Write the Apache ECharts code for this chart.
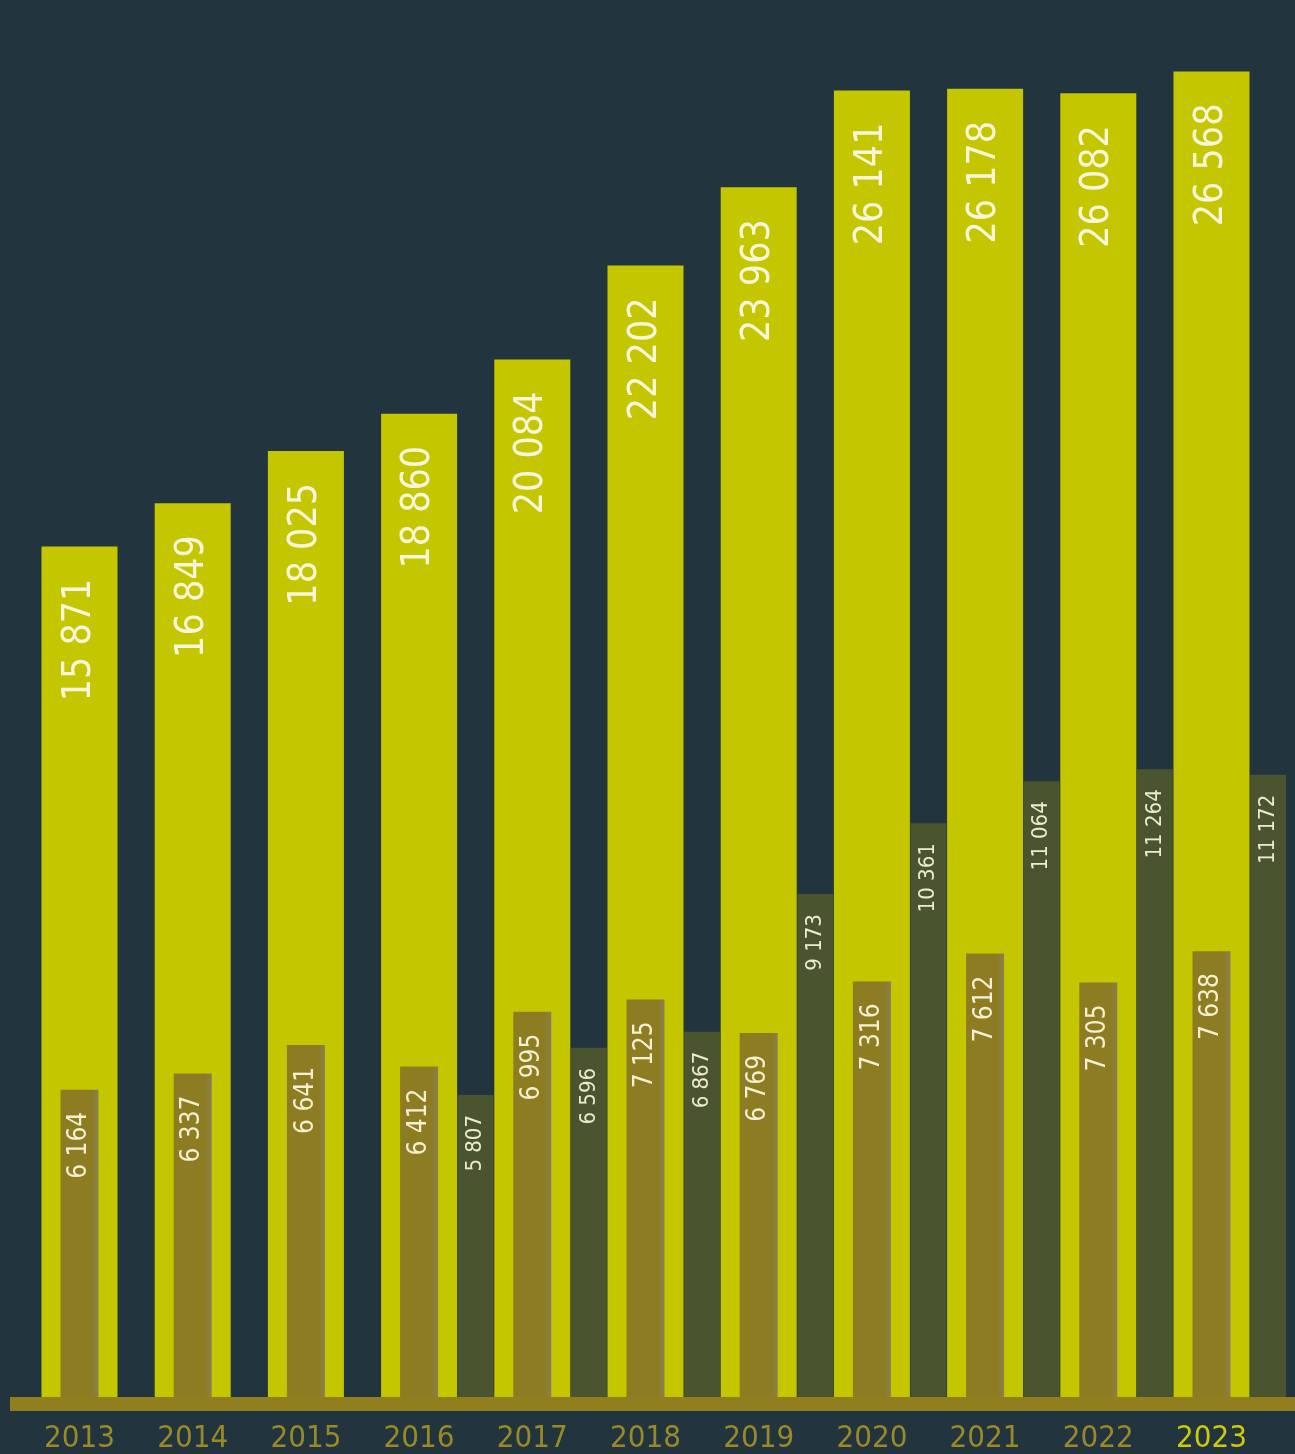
<!DOCTYPE html>
<html>
<head>
<meta charset="utf-8">
<script src="https://cdn.jsdelivr.net/npm/echarts@6/dist/echarts.min.js"></script>
<style>
html,body{margin:0;padding:0;background:#22343d;}
#chart{width:1295px;height:1454px;}
</style>
</head>
<body>
<div id="chart"></div>
<script>
const years = ['2013','2014','2015','2016','2017','2018','2019','2020','2021','2022','2023'];
const totalValues = [15871,16849,18025,18860,20084,22202,23963,26141,26178,26082,26568];
const innerValues = [6164,6337,6641,6412,6995,7125,6769,7316,7612,7305,7638];
const sideValues = [null,null,null,5807,6596,6867,9173,10361,11064,11264,11172];

const FONT = "'Liberation Sans Narrow', 'DejaVu Sans Condensed', 'Roboto', sans-serif";
const fmt = v => String(v).replace(/\B(?=(\d{3})+(?!\d))/g, ' ');
const labelFmt = p => (p.value == null ? '' : fmt(p.value));

const chart = echarts.init(document.getElementById('chart'), null, {renderer:'canvas'});

const gridBase = {top: 0, bottom: 57, containLabel: false};
const hiddenY = {type:'value', axisLine:{show:false}, axisTick:{show:false}, axisLabel:{show:false}, splitLine:{show:false}};

chart.setOption({
  backgroundColor: '#22343d',
  animation: false,
  grid: [
    Object.assign({left: 22.9, width: 1245.2}, gridBase),
    Object.assign({left: 22.9, width: 1245.2}, gridBase),
    Object.assign({left: 136.1, width: 1132}, gridBase)
  ],
  xAxis: [
    {type:'category', data: years, gridIndex:0, boundaryGap:true,
     axisLine:{show:false}, axisTick:{show:false},
     axisLabel:{
       interval: 0, margin: 26, fontSize: 31, color:'#9a8927', fontFamily: FONT,
       formatter: v => v === '2023' ? '{hl|' + v + '}' : v,
       rich: {hl:{color:'#cbcb06', fontSize:31, fontFamily: FONT}}
     }},
    {type:'category', data: years, gridIndex:1, show:false, boundaryGap:true},
    {type:'category', data: years, gridIndex:2, show:false, boundaryGap:false}
  ],
  yAxis: [
    Object.assign({gridIndex:0, min:-3278, max:28179, startValue:-3278}, hiddenY),
    Object.assign({gridIndex:1, min:2900, max:17746, startValue:2900}, hiddenY),
    Object.assign({gridIndex:2, min:746, max:24154, startValue:746}, hiddenY)
  ],
  series: [
    {
      type:'bar', name:'side', xAxisIndex:2, yAxisIndex:2, data: sideValues,
      barWidth: 36, clip: false, itemStyle:{color:'#4a5530'},
      label:{show:true, position:'insideTop', distance:20, rotate:90, align:'right', verticalAlign:'middle',
             fontSize:22, color:'#ecebd0', fontFamily: FONT, formatter: labelFmt}
    },
    {
      type:'bar', name:'total', xAxisIndex:0, yAxisIndex:0, data: totalValues,
      barWidth: 76, itemStyle:{color:'#c4c700'},
      label:{show:true, position:'insideTop', distance:32, rotate:90, align:'right', verticalAlign:'middle',
             fontSize:39, color:'#f7f6dc', fontFamily: FONT, formatter: labelFmt}
    },
    {
      type:'bar', name:'inner', xAxisIndex:1, yAxisIndex:1, data: innerValues,
      barWidth: 38,
      itemStyle:{color: new echarts.graphic.LinearGradient(0,0,1,0,[
        {offset:0, color:'#8e7c22'},{offset:0.82, color:'#8e7c22'},{offset:1, color:'#8a7f52'}])},
      label:{show:true, position:'insideTop', distance:22, rotate:90, align:'right', verticalAlign:'middle',
             fontSize:26, color:'#f4f1d2', fontFamily: FONT, formatter: labelFmt}
    }
  ],
  graphic: [
    {type:'rect', z: 100, shape:{x:10, y:1397, width:1285, height:14}, style:{fill:'#917e1f'}}
  ]
});
</script>
</body>
</html>
